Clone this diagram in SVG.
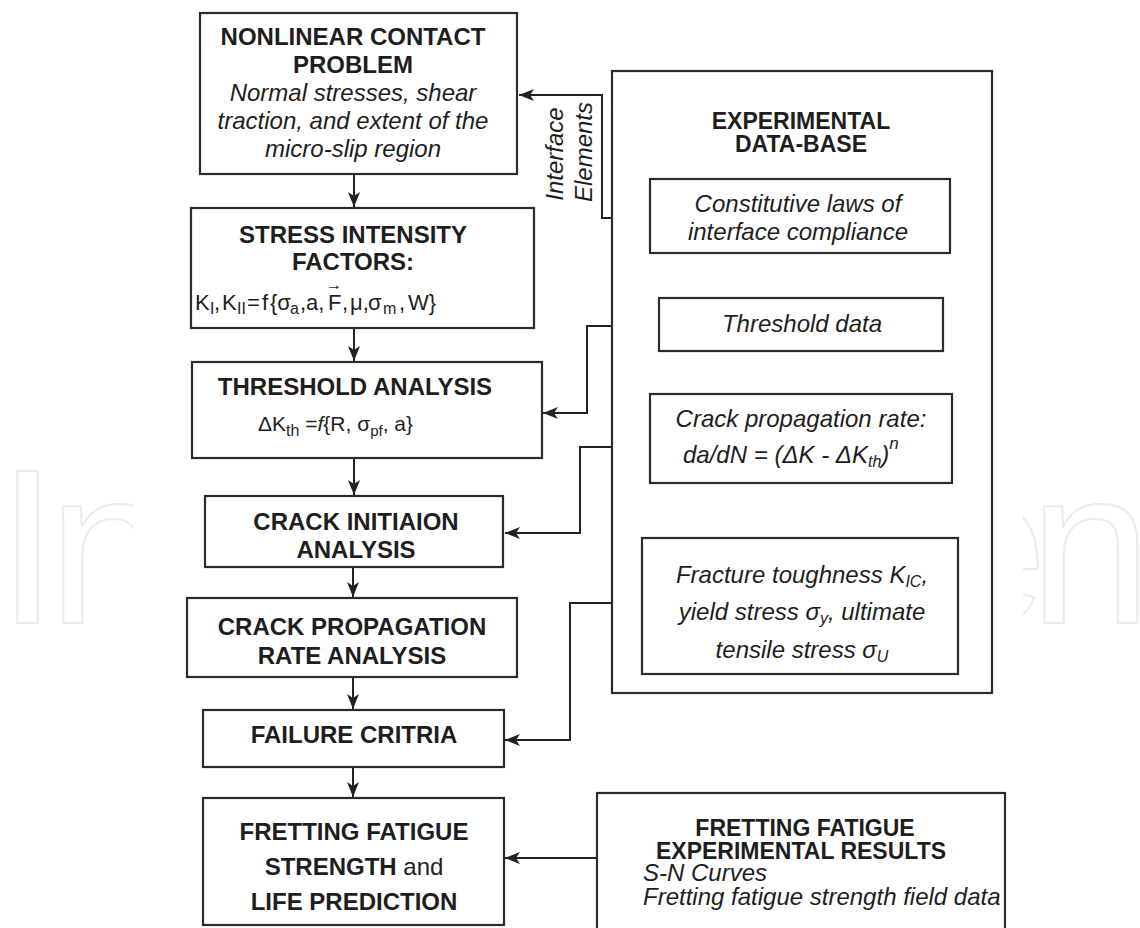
<svg xmlns="http://www.w3.org/2000/svg" width="1140" height="928" viewBox="0 0 1140 928">
<defs>
<style>
.box{fill:#fff;stroke:#2b2b2b;stroke-width:2.2}
.t{font-family:"Liberation Sans",Arial,sans-serif;fill:#1e1e1e}
.b{font-weight:bold;font-size:24px}
.bt{font-weight:bold;font-size:23px}
.i{font-style:italic;font-size:24px}
.r{font-size:22px}
.c{text-anchor:middle}
.wm{font-family:"Liberation Sans",Arial,sans-serif;font-size:220px;fill:#fff;stroke:#ebebeb;stroke-width:2}
.ln{fill:none;stroke:#222;stroke-width:2}
</style>
<marker id="ah" markerWidth="15" markerHeight="12" refX="15" refY="6" orient="auto" markerUnits="userSpaceOnUse">
<path d="M0,0 L15,6 L0,12 L4,6 Z" fill="#222"/>
</marker>
</defs>
<rect width="1140" height="928" fill="#fff"/>
<g id="watermark">
<text class="wm" x="-3" y="623" letter-spacing="-10">In</text>
<text class="wm" x="925" y="623" letter-spacing="-18">en</text>
<rect x="133" y="0" width="890" height="928" fill="#fff"/>
</g>

<g id="connectors">
<path class="ln" d="M354,175 V207" marker-end="url(#ah)"/>
<path class="ln" d="M354,328 V361" marker-end="url(#ah)"/>
<path class="ln" d="M354,458 V495" marker-end="url(#ah)"/>
<path class="ln" d="M353,567 V597" marker-end="url(#ah)"/>
<path class="ln" d="M353,677 V709" marker-end="url(#ah)"/>
<path class="ln" d="M353,767 V797" marker-end="url(#ah)"/>
<path class="ln" d="M650,218 H602 V95 H519" marker-end="url(#ah)"/>
<path class="ln" d="M659,326 H587 V413 H543" marker-end="url(#ah)"/>
<path class="ln" d="M650,447 H580 V533 H505" marker-end="url(#ah)"/>
<path class="ln" d="M642,603 H570 V740 H505" marker-end="url(#ah)"/>
<path class="ln" d="M597,858 H505" marker-end="url(#ah)"/>
</g>

<g id="interface-label" class="t i">
<text class="c" transform="translate(563,154) rotate(-90)">Interface</text>
<text class="c" transform="translate(592,152) rotate(-90)">Elements</text>
</g>

<g id="nonlinear">
<rect class="box" x="200" y="13" width="317" height="161"/>
<text class="t b c" x="353" y="45">NONLINEAR CONTACT</text>
<text class="t b c" x="353" y="73">PROBLEM</text>
<text class="t i c" x="353" y="101">Normal stresses, shear</text>
<text class="t i c" x="353" y="129">traction, and extent of the</text>
<text class="t i c" x="353" y="157">micro-slip region</text>
</g>

<g id="sif">
<rect class="box" x="191" y="208" width="343" height="120"/>
<text class="t b c" x="353" y="243">STRESS INTENSITY</text>
<text class="t b c" x="353" y="270">FACTORS:</text>
<text class="t r" y="310"><tspan x="195">K</tspan><tspan x="210" y="314" font-size="16">I</tspan><tspan x="214" y="310">,</tspan><tspan x="222">K</tspan><tspan x="237" y="314" font-size="16">II</tspan><tspan x="247" y="310">=</tspan><tspan x="262">f</tspan><tspan x="270">{σ</tspan><tspan x="290" y="314" font-size="16">a</tspan><tspan x="300" y="310">,a,</tspan><tspan x="328">F</tspan><tspan x="342">,</tspan><tspan x="350">μ,</tspan><tspan x="368">σ</tspan><tspan x="383" y="314" font-size="16">m</tspan><tspan x="399" y="310">,</tspan><tspan x="408">W}</tspan></text>
<text class="t" x="334" y="290" font-size="16" text-anchor="middle">→</text>
</g>

<g id="threshold">
<rect class="box" x="192" y="362" width="350" height="96"/>
<text class="t b c" x="355" y="395">THRESHOLD ANALYSIS</text>
<text class="t" x="258" y="431" font-size="21">ΔK<tspan font-size="16" dy="5">th</tspan><tspan dy="-5"> =</tspan><tspan font-style="italic">f</tspan>{R, σ<tspan font-size="15" dy="5">pf</tspan><tspan dy="-5">, a}</tspan></text>
</g>

<g id="initiation">
<rect class="box" x="205" y="496" width="298" height="71"/>
<text class="t b c" x="356" y="530">CRACK INITIAION</text>
<text class="t b c" x="356" y="558">ANALYSIS</text>
</g>

<g id="propagation">
<rect class="box" x="187" y="598" width="330" height="79"/>
<text class="t b c" x="352" y="635">CRACK PROPAGATION</text>
<text class="t b c" x="352" y="664">RATE ANALYSIS</text>
</g>

<g id="failure">
<rect class="box" x="203" y="710" width="301" height="57"/>
<text class="t b c" x="354" y="743">FAILURE CRITRIA</text>
</g>

<g id="prediction">
<rect class="box" x="203" y="798" width="301" height="127"/>
<text class="t b c" x="354" y="840">FRETTING FATIGUE</text>
<text class="t b c" x="354" y="875">STRENGTH <tspan font-weight="normal">and</tspan></text>
<text class="t b c" x="354" y="910">LIFE PREDICTION</text>
</g>

<g id="database">
<rect class="box" x="612" y="71" width="380" height="622"/>
<text class="t bt c" x="801" y="129">EXPERIMENTAL</text>
<text class="t bt c" x="801" y="152">DATA-BASE</text>
</g>

<g id="constitutive">
<rect class="box" x="650" y="179" width="300" height="74"/>
<text class="t i c" x="798" y="212">Constitutive laws of</text>
<text class="t i c" x="798" y="240">interface compliance</text>
</g>

<g id="threshold-data">
<rect class="box" x="659" y="298" width="284" height="53"/>
<text class="t i c" x="802" y="332">Threshold data</text>
</g>

<g id="crack-rate">
<rect class="box" x="650" y="394" width="302" height="89"/>
<text class="t i c" x="801" y="427">Crack propagation rate:</text>
<text class="t i" x="683" y="463">da/dN = (ΔK - ΔK<tspan font-size="16" dy="4">th</tspan><tspan dy="-4">)</tspan><tspan font-size="17" dy="-14">n</tspan></text>
</g>

<g id="fracture">
<rect class="box" x="642" y="538" width="316" height="136"/>
<text class="t i c" x="802" y="583">Fracture toughness K<tspan font-size="16" dy="4">IC</tspan><tspan dy="-4">,</tspan></text>
<text class="t i c" x="802" y="620">yield stress σ<tspan font-size="16" dy="4">y</tspan><tspan dy="-4">, ultimate</tspan></text>
<text class="t i c" x="802" y="658">tensile stress σ<tspan font-size="16" dy="4">U</tspan></text>
</g>

<g id="results">
<rect class="box" x="597" y="793" width="408" height="145"/>
<text class="t bt c" x="805" y="836">FRETTING FATIGUE</text>
<text class="t bt c" x="801" y="859">EXPERIMENTAL RESULTS</text>
<text class="t i" x="643" y="881" font-size="22">S-N Curves</text>
<text class="t i" x="643" y="905" font-size="22">Fretting fatigue strength field data</text>
</g>
</svg>
